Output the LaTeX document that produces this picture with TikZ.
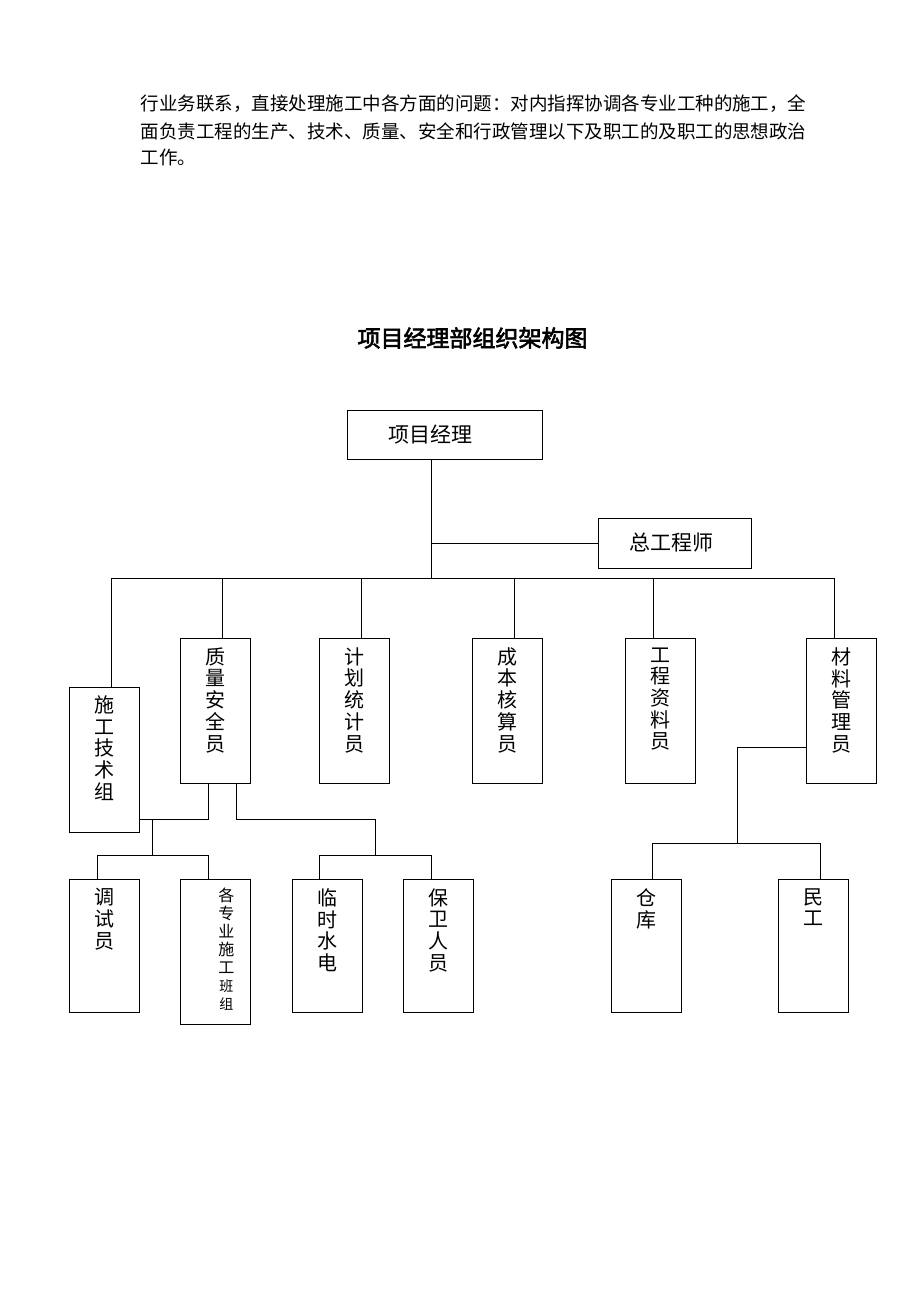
\documentclass[tikz,border=0pt]{standalone}
\usepackage{fontspec}
\setmainfont{Noto Sans CJK SC}[AutoFakeBold=2.5]
\usetikzlibrary{positioning}
\begin{document}
\begin{tikzpicture}[
    x=1pt, y=-1pt,
    line width=1pt,
    every node/.style={inner sep=0pt},
    body/.style={anchor=west, font=\fontsize{18.5pt}{20pt}\selectfont},
    hbox/.style={draw, minimum height=49pt, font=\fontsize{21pt}{24pt}\selectfont},
    vbox/.style={draw, anchor=north, minimum width=70pt, minimum height=145pt},
    lowbox/.style={vbox, minimum height=133pt},
    vtext/.style={align=center, font=\fontsize{20pt}{21.7pt}\selectfont}
]
\useasboundingbox (0,0) rectangle (920,1302);

\node[body] (line1) at (140,104) {行业务联系，直接处理施工中各方面的问题：对内指挥协调各专业工种的施工，全};
\node[body] (line2) at (140,131) {面负责工程的生产、技术、质量、安全和行政管理以下及职工的及职工的思想政治};
\node[body] (line3) at (140,157) {工作。};
\node[font=\fontsize{23pt}{26pt}\selectfont\bfseries] (title) at (472.5,338) {项目经理部组织架构图};

\node[hbox, minimum width=195pt] (pm) at (444.5,434.5) {项目经理\hspace*{28pt}};
\node[hbox, minimum width=153pt, minimum height=50pt] (ce) at (674.5,543) {总工程师\hspace*{7pt}};

\node[vbox] (sjz) at (104,687) {};
\node[vbox] (zlaq) at (215.3,638) {};
\node[vbox] (jhtj) at (354.3,638) {};
\node[vbox] (cbhs) at (507.3,638) {};
\node[vbox] (gczl) at (660.3,638) {};
\node[vbox] (clgl) at (841.3,638) {};

\node[lowbox] (tsy) at (104,879) {};
\node[vbox] (gzy) at (215.3,879) {};
\node[lowbox] (lssd) at (327,879) {};
\node[lowbox] (bwry) at (438,879) {};
\node[lowbox] (ck) at (646.8,879) {};
\node[lowbox] (mg) at (813.3,879) {};

\node[vtext, below=8pt of sjz.north] (sjz-t) {施\\工\\技\\术\\组};
\node[vtext, below=9pt of zlaq.north] (zlaq-t) {质\\量\\安\\全\\员};
\node[vtext, below=9pt of jhtj.north] (jhtj-t) {计\\划\\统\\计\\员};
\node[vtext, below=9pt of cbhs.north] (cbhs-t) {成\\本\\核\\算\\员};
\node[vtext, below=9pt of gczl.north] (gczl-t) {工\\程\\资\\料\\员};
\node[vtext, below=9pt of clgl.north] (clgl-t) {材\\料\\管\\理\\员};
\node[vtext, below=9pt of tsy.north] (tsy-t) {调\\试\\员};
\node[vtext, below=8pt of gzy.north, xshift=11pt, font=\fontsize{16pt}{18pt}\selectfont] (gzy-t) {各\\专\\业\\施\\工\\{\fontsize{14pt}{14.5pt}\selectfont 班}\\{\fontsize{14pt}{14.5pt}\selectfont 组}};
\node[vtext, below=9pt of lssd.north] (lssd-t) {临\\时\\水\\电};
\node[vtext, below=9pt of bwry.north] (bwry-t) {保\\卫\\人\\员};
\node[vtext, below=9pt of ck.north] (ck-t) {仓\\库};
\node[vtext, below=9pt of mg.north] (mg-t) {民\\工};

\coordinate (trunk) at (431,578);
\draw (pm.south -| trunk) -- (trunk);
\draw (trunk |- ce.west) -- (ce.west);
\draw ([xshift=7pt]sjz.north) |- (trunk);
\draw ([xshift=7pt]zlaq.north) |- (trunk);
\draw ([xshift=7pt]jhtj.north) |- (trunk);
\draw ([xshift=7pt]cbhs.north) |- (trunk);
\draw ([xshift=-7pt]gczl.north) |- (trunk);
\draw ([xshift=-7pt]clgl.north) |- (trunk);

\coordinate (ja) at (152.7,819);
\coordinate (jb) at (152.7,855);
\draw ([xshift=-6.6pt]zlaq.south) |- (ja -| sjz.east);
\draw (ja) -- (jb);
\draw ([xshift=-7pt]tsy.north) |- (jb) -| ([xshift=-6.6pt]gzy.north);

\coordinate (jc) at (375.3,819);
\coordinate (jd) at (375.3,855);
\draw ([xshift=21pt]zlaq.south) |- (jc) -- (jd);
\draw ([xshift=-7.3pt]lssd.north) |- (jd) -| ([xshift=-7pt]bwry.north);

\coordinate (je) at (737,843);
\draw ([yshift=-36.5pt]clgl.west) -| (je);
\draw ([xshift=6pt]ck.north) |- (je) -| ([xshift=7pt]mg.north);
\end{tikzpicture}
\end{document}
